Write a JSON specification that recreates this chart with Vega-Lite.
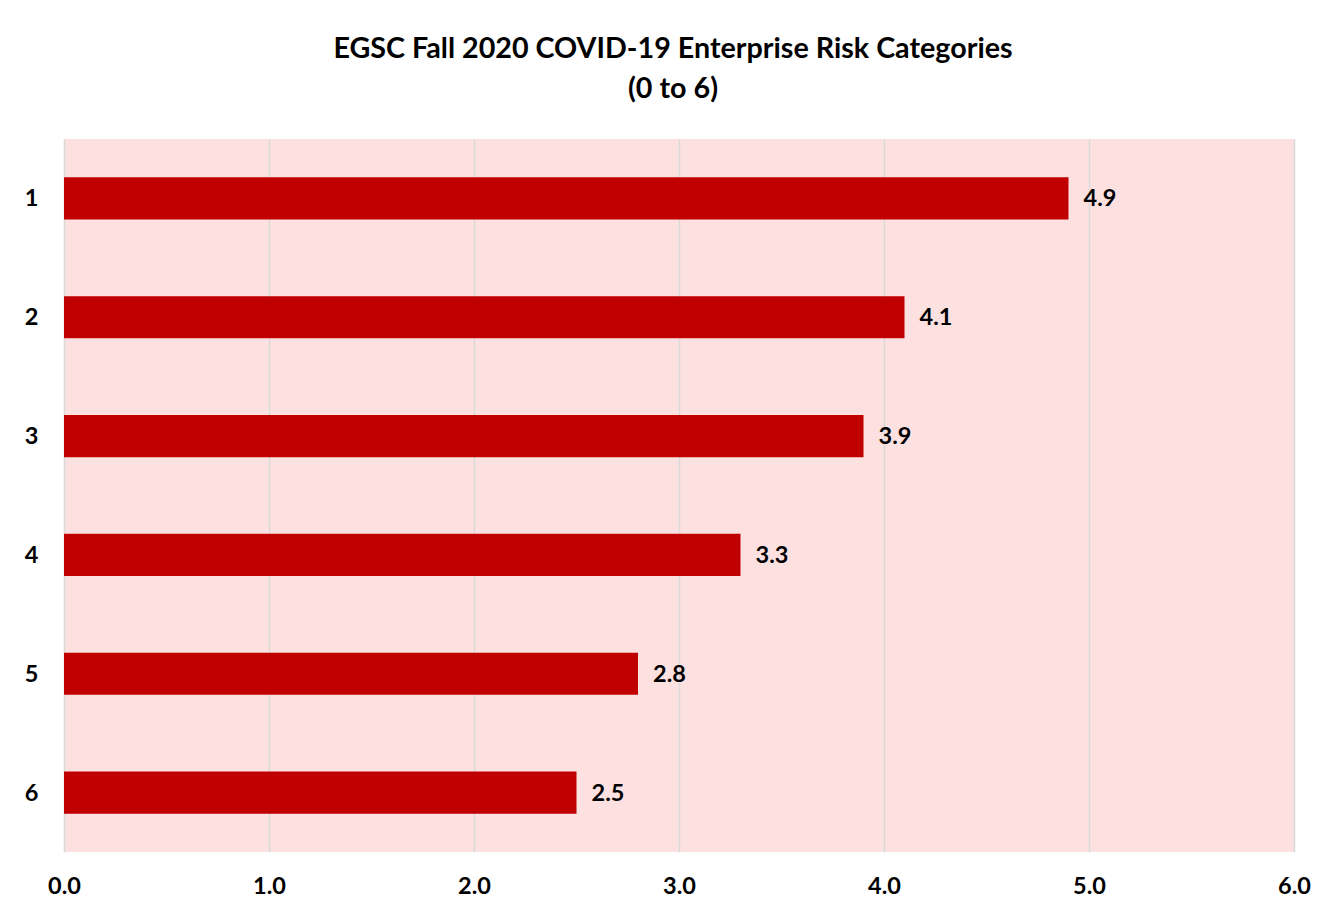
{
  "$schema": "https://vega.github.io/schema/vega-lite/v6.json",
  "width": 1230,
  "height": 713,
  "autosize": {"type": "none"},
  "padding": {"left": 64, "top": 139, "right": 28, "bottom": 60},
  "background": "#FFFFFF",
  "title": {
    "text": ["EGSC Fall 2020 COVID-19 Enterprise Risk Categories", "(0 to 6)"],
    "font": "Lato",
    "fontSize": 28.7,
    "fontWeight": "bold",
    "color": "#000000",
    "lineHeight": 40,
    "anchor": "middle",
    "offset": 35,
    "dx": -6
  },
  "config": {
    "view": {"fill": "#FDE0E0", "stroke": null},
    "font": "Lato"
  },
  "data": {
    "values": [
      {"category": "1", "score": 4.9},
      {"category": "2", "score": 4.1},
      {"category": "3", "score": 3.9},
      {"category": "4", "score": 3.3},
      {"category": "5", "score": 2.8},
      {"category": "6", "score": 2.5}
    ]
  },
  "encoding": {
    "y": {
      "field": "category",
      "type": "nominal",
      "sort": null,
      "scale": {"paddingInner": 0, "paddingOuter": 0},
      "axis": {
        "title": null,
        "ticks": false,
        "domain": false,
        "grid": false,
        "labelFont": "Lato",
        "labelFontSize": 23.5,
        "labelFontWeight": "bold",
        "labelColor": "#000000",
        "labelPadding": 26,
        "labelOffset": 1
      }
    },
    "x": {
      "field": "score",
      "type": "quantitative",
      "scale": {"domain": [0, 6], "nice": false},
      "axis": {
        "title": null,
        "values": [0, 1, 2, 3, 4, 5, 6],
        "format": ".1f",
        "ticks": false,
        "domain": false,
        "grid": true,
        "gridColor": "#D9D9D9",
        "gridWidth": 1.5,
        "labelFont": "Lato",
        "labelFontSize": 23.5,
        "labelFontWeight": "bold",
        "labelColor": "#000000",
        "labelPadding": 22,
        "labelFlush": false
      }
    }
  },
  "layer": [
    {
      "mark": {"type": "bar", "color": "#C00000", "height": {"band": 0.355}}
    },
    {
      "mark": {
        "type": "text",
        "align": "left",
        "baseline": "middle",
        "dx": 15,
        "dy": 1,
        "font": "Lato",
        "fontSize": 23.5,
        "fontWeight": "bold",
        "color": "#000000"
      },
      "encoding": {
        "text": {"field": "score", "type": "quantitative", "format": ".1f"}
      }
    }
  ]
}
